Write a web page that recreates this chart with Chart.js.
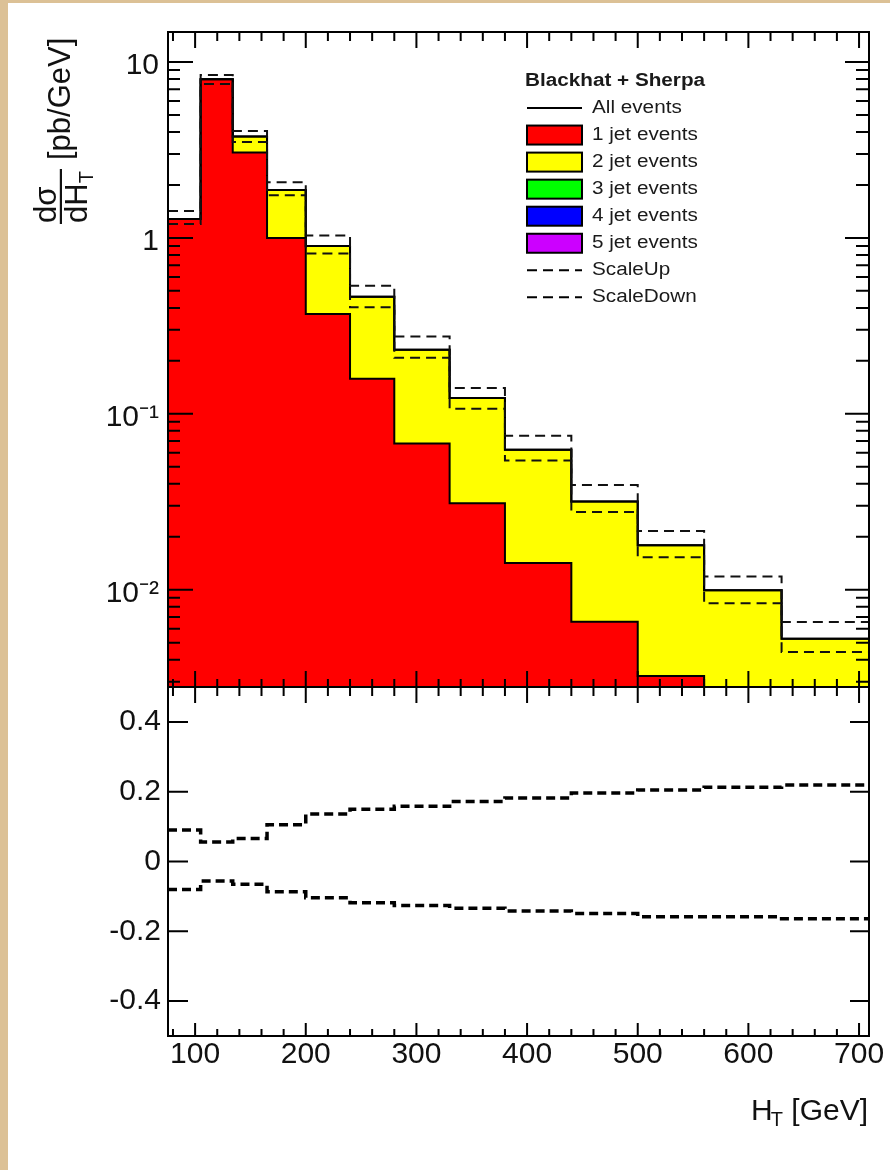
<!DOCTYPE html>
<html><head><meta charset="utf-8">
<script src="https://cdn.jsdelivr.net/npm/chart.js@4.4.1/dist/chart.umd.min.js"></script>
<style>
html,body{margin:0;padding:0;background:#dcc196;width:890px;height:1170px;overflow:hidden;}
#page{position:absolute;left:8px;top:3px;width:882px;height:1167px;background:#fff;}
#c1{position:absolute;left:0;top:0;}
#c2{position:absolute;left:0;top:680px;}
</style></head><body>
<div id="page"></div>
<canvas id="c1" width="890" height="690"></canvas>
<canvas id="c2" width="890" height="490"></canvas>
<script>
// ---- data ----
const binEdges   = [75.5,105,134,165,200,240,280,330,380,440,500,560,630,709];
const allEvents  = [1.28,7.98,3.77,1.87,0.90,0.463,0.231,0.123,0.0624,0.0317,0.0179,0.00993,0.00526];
const oneJet     = [1.28,7.98,3.06,1.00,0.369,0.158,0.0678,0.031,0.0142,0.00658,0.00323,0.0013,0.0005];
const scaleUp    = [1.42,8.43,4.05,2.07,1.03,0.534,0.275,0.140,0.075,0.0394,0.0216,0.0119,0.00655];
const scaleDown  = [1.20,7.50,3.51,1.75,0.815,0.403,0.208,0.107,0.0543,0.0277,0.0153,0.00837,0.00443];
const ratioUp    = [0.090,0.056,0.066,0.105,0.136,0.150,0.158,0.172,0.182,0.196,0.205,0.213,0.219];
const ratioDown  = [-0.080,-0.056,-0.065,-0.087,-0.104,-0.118,-0.126,-0.134,-0.142,-0.149,-0.158,-0.158,-0.164];
const xTickValues = [100,200,300,400,500,600,700];
const xTickText   = ['100','200','300','400','500','600','700'];
const yTickValues = [0.01,0.1,1,10];
const yTickText   = ['10\u207B\u00B2','10\u207B\u00B9','1','10'];
const rTickValues = [-0.4,-0.2,0,0.2,0.4];
const rTickText   = ['-0.4','-0.2','0','0.2','0.4'];
const legendTitle = 'Blackhat + Sherpa';
const xTitle = ['H','T',' [GeV]'];
const yTitle = {num:'d\u03C3', den:['dH','T'], unit:'[pb/GeV]'};

const X_MIN = 75.5, X_MAX = 709;
const FONT = "'Liberation Sans', Arial, Helvetica, sans-serif";

function steps(vals){
  const pts = vals.map((v,i)=>({x:binEdges[i], y:v}));
  pts.push({x:binEdges[binEdges.length-1], y:vals[vals.length-1]});
  return pts;
}
function pickLabel(values, texts, v){
  for (let i=0;i<values.length;i++){
    if (Math.abs(values[i]-v) <= 1e-6*Math.max(1,Math.abs(values[i]))) return texts[i];
  }
  return null;
}
function fixY(s){ s.width = 168; s.paddingTop = 0; s.paddingBottom = 0; }
function fixX(h){ return function(s){ s.height = h; s.paddingLeft = 0; s.paddingRight = 0; }; }

// frame + inward ticks (ROOT style), positions from the chart scales
function framePlugin(spec){
  return {
    id:'frame',
    afterDraw(chart){
      const ctx = chart.ctx, a = chart.chartArea, xs = chart.scales.x, ys = chart.scales.y;
      ctx.save();
      ctx.strokeStyle = '#000'; ctx.lineWidth = 2; ctx.setLineDash([]);
      ctx.beginPath();
      for (let v=80; v<=700; v+=20){
        const p = xs.getPixelForValue(v);
        const major = v%100===0;
        const lt = major? spec.xTop[0] : spec.xTop[1];
        const lb = major? spec.xBot[0] : spec.xBot[1];
        ctx.moveTo(p, a.top); ctx.lineTo(p, a.top+lt);
        ctx.moveTo(p, a.bottom); ctx.lineTo(p, a.bottom-lb);
      }
      const yt = spec.yTicks(ys);
      yt.forEach(t=>{
        const p = ys.getPixelForValue(t.v);
        const ll = t.major? spec.yLeft[0] : spec.yLeft[1];
        const lr = t.major? spec.yRight[0] : spec.yRight[1];
        ctx.moveTo(a.left, p); ctx.lineTo(a.left+ll, p);
        ctx.moveTo(a.right, p); ctx.lineTo(a.right-lr, p);
      });
      ctx.stroke();
      ctx.strokeRect(a.left, a.top, a.right-a.left, a.bottom-a.top);
      ctx.restore();
    }
  };
}

const legendPlugin = {
  id:'rootLegend',
  afterDraw(chart){
    const ctx = chart.ctx;
    const sx = 1.15;
    ctx.save();
    ctx.fillStyle = '#1a1a1a';
    ctx.textBaseline = 'middle';
    ctx.textAlign = 'left';
    ctx.save(); ctx.scale(sx,1);
    ctx.font = 'bold 18px ' + FONT;
    ctx.fillText(legendTitle, 525/sx, 81);
    ctx.restore();
    chart.data.datasets.forEach((ds,i)=>{
      const y = 108 + i*27.05;
      const x0 = 527, x1 = 582;
      ctx.save();
      if (ds.legendKind === 'box'){
        ctx.fillStyle = ds.backgroundColor;
        ctx.fillRect(x0, y-9.5, x1-x0, 19);
        ctx.strokeStyle = '#000'; ctx.lineWidth = 2;
        ctx.strokeRect(x0, y-9.5, x1-x0, 19);
      } else {
        ctx.strokeStyle = '#000'; ctx.lineWidth = 2;
        ctx.setLineDash(ds.borderDash || []);
        ctx.beginPath(); ctx.moveTo(x0, y); ctx.lineTo(x1, y); ctx.stroke();
      }
      ctx.restore();
      ctx.save(); ctx.scale(sx,1);
      ctx.font = '18px ' + FONT;
      ctx.fillStyle = '#1a1a1a';
      ctx.fillText(ds.label, 592/sx, y);
      ctx.restore();
    });
    ctx.restore();
  }
};

const yTitlePlugin = {
  id:'yTitle',
  afterDraw(chart){
    const ctx = chart.ctx;
    ctx.save();
    ctx.rotate(-Math.PI/2);
    ctx.fillStyle = '#111';
    ctx.textAlign = 'left'; ctx.textBaseline = 'alphabetic';
    ctx.font = '31px ' + FONT;
    // page (X,Y) -> rotated (u=-Y, v=X)
    ctx.fillText(yTitle.unit, -160, 70);
    ctx.fillText(yTitle.num, -223, 56);
    ctx.fillText(yTitle.den[0], -223, 87);
    const w = ctx.measureText(yTitle.den[0]).width;
    ctx.font = '20px ' + FONT;
    ctx.fillText(yTitle.den[1], -223 + w, 93);
    ctx.fillRect(-224, 59.8, 55, 2.2);
    ctx.restore();
  }
};

const xTitlePlugin = {
  id:'xTitle',
  afterDraw(chart){
    const ctx = chart.ctx;
    ctx.save();
    ctx.fillStyle = '#111';
    ctx.textAlign = 'left'; ctx.textBaseline = 'alphabetic';
    const base = 1120 - 680;
    ctx.font = '30px ' + FONT;
    const w3 = ctx.measureText(xTitle[2]).width;
    const w1 = ctx.measureText(xTitle[0]).width;
    ctx.font = '20px ' + FONT;
    const w2 = ctx.measureText(xTitle[1]).width;
    const right = 870;
    let x = right - w3 - w2 - w1;
    ctx.font = '30px ' + FONT;
    ctx.fillText(xTitle[0], x, base);
    ctx.font = '20px ' + FONT;
    ctx.fillText(xTitle[1], x + w1 - 2, base + 6);
    ctx.font = '30px ' + FONT;
    ctx.fillText(xTitle[2], x + w1 + w2 - 2, base);
    ctx.restore();
  }
};

function logTicks(ys){
  const out = [];
  for (let e=-3; e<=1; e++){
    for (let k=1;k<=9;k++){
      const v = k*Math.pow(10,e);
      if (v>=ys.min && v<=ys.max) out.push({v, major:k===1});
    }
  }
  return out;
}
function ratioTicks(){ return rTickValues.map(v=>({v, major:true})); }

const lineDefaults = {pointRadius:0, stepped:'before', tension:0};
const noGrid = {display:false, drawTicks:false, tickLength:0};

new Chart(document.getElementById('c1'), {
  type:'line',
  data:{datasets:[
    Object.assign({label:'All events', data:steps(allEvents), borderColor:'#000', borderWidth:2, fill:false, order:1, legendKind:'line'}, lineDefaults),
    Object.assign({label:'1 jet events', data:steps(oneJet), borderColor:'#000', borderWidth:2, backgroundColor:'#ff0000', fill:'start', order:3, legendKind:'box'}, lineDefaults),
    Object.assign({label:'2 jet events', data:steps(allEvents), borderColor:'#000', borderWidth:2, backgroundColor:'#ffff00', fill:'start', order:4, legendKind:'box'}, lineDefaults),
    Object.assign({label:'3 jet events', data:[], borderColor:'#000', borderWidth:2, backgroundColor:'#00ff00', fill:'start', order:5, legendKind:'box'}, lineDefaults),
    Object.assign({label:'4 jet events', data:[], borderColor:'#000', borderWidth:2, backgroundColor:'#0000ff', fill:'start', order:6, legendKind:'box'}, lineDefaults),
    Object.assign({label:'5 jet events', data:[], borderColor:'#000', borderWidth:2, backgroundColor:'#cc00ff', fill:'start', order:7, legendKind:'box'}, lineDefaults),
    Object.assign({label:'ScaleUp', data:steps(scaleUp), borderColor:'#111', borderWidth:2, borderDash:[10,6], fill:false, order:0, legendKind:'line'}, lineDefaults),
    Object.assign({label:'ScaleDown', data:steps(scaleDown), borderColor:'#111', borderWidth:2, borderDash:[10,6], fill:false, order:0, legendKind:'line'}, lineDefaults)
  ]},
  options:{
    responsive:false, animation:false, devicePixelRatio:1,
    layout:{padding:{left:0,right:21,top:32,bottom:3}},
    plugins:{legend:{display:false}, tooltip:{enabled:false}},
    scales:{
      x:{type:'linear', min:X_MIN, max:X_MAX, display:false},
      y:{type:'logarithmic', min:0.0028, max:14.8,
         afterFit: fixY,
         grid:noGrid, border:{display:false},
         ticks:{autoSkip:false, padding:9, labelOffset:4, color:'#111', font:{family:FONT, size:30},
                callback:(v)=>pickLabel(yTickValues, yTickText, v)}}
    }
  },
  plugins:[framePlugin({xTop:[16,9], xBot:[16,8], yLeft:[25,12], yRight:[24,13], yTicks:logTicks}), legendPlugin, yTitlePlugin]
});

new Chart(document.getElementById('c2'), {
  type:'line',
  data:{datasets:[
    Object.assign({label:'ScaleUp / All events', data:steps(ratioUp), borderColor:'#000', borderWidth:3.5, borderDash:[9,5], fill:false}, lineDefaults),
    Object.assign({label:'ScaleDown / All events', data:steps(ratioDown), borderColor:'#000', borderWidth:3.5, borderDash:[9,5], fill:false}, lineDefaults)
  ]},
  options:{
    responsive:false, animation:false, devicePixelRatio:1,
    layout:{padding:{left:0,right:21,top:7,bottom:0}},
    plugins:{legend:{display:false}, tooltip:{enabled:false}},
    scales:{
      x:{type:'linear', min:X_MIN, max:X_MAX,
         afterFit: fixX(134),
         grid:noGrid, border:{display:false},
         ticks:{autoSkip:false, includeBounds:false, stepSize:100, maxRotation:0, padding:1, color:'#111', font:{family:FONT, size:30},
                callback:(v)=>pickLabel(xTickValues, xTickText, v)}},
      y:{type:'linear', min:-0.5, max:0.5,
         afterFit: fixY,
         grid:noGrid, border:{display:false},
         ticks:{autoSkip:false, stepSize:0.1, padding:7, color:'#111', font:{family:FONT, size:30},
                callback:(v)=>pickLabel(rTickValues, rTickText, v)}}
    }
  },
  plugins:[framePlugin({xTop:[16,9], xBot:[13,7], yLeft:[20,20], yRight:[19,19], yTicks:ratioTicks}), xTitlePlugin]
});
</script>
</body></html>
